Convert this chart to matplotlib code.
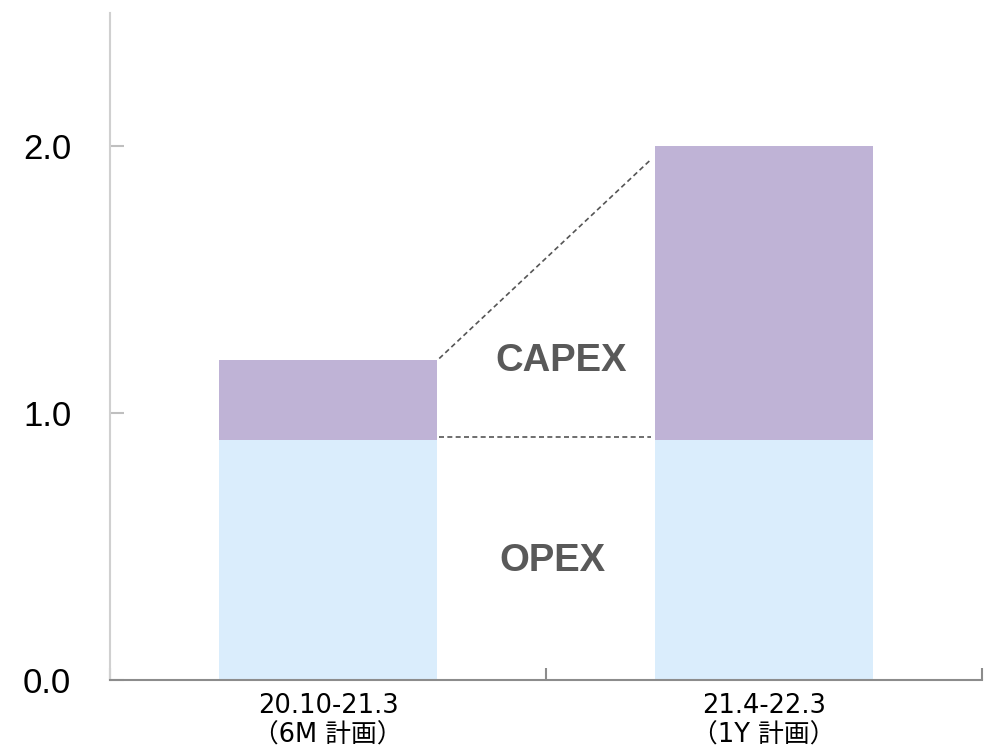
import matplotlib
matplotlib.use("Agg")
import matplotlib.pyplot as plt

categories = ["20.10-21.3\n（6M 計画）", "21.4-22.3\n（1Y 計画）"]
opex = [0.9, 0.9]
capex = [0.3, 1.1]
y_ticks = [0.0, 1.0, 2.0]
y_tick_labels = ["0.0", "1.0", "2.0"]

opex_color = "#DAEDFC"
capex_color = "#BFB3D6"
text_color = "#595959"

fig = plt.figure(figsize=(9.86, 7.5), dpi=100)
ax = fig.add_axes([0.1116, 0.0933, 0.8844, 0.8894])

x = list(range(len(categories)))
width = 0.5
ax.bar(x, opex, width=width, color=opex_color, zorder=2)
ax.bar(x, capex, bottom=opex, width=width, color=capex_color, zorder=2)

totals = [o + c for o, c in zip(opex, capex)]

# connector lines between the two stacks
ax.plot([x[0] + width / 2 + 0.005, x[1] - width / 2 - 0.01],
        [totals[0] + 0.005, totals[1] - 0.05],
        ls=(0, (3, 2)), color="#555555", lw=1.2, zorder=3)
ax.plot([x[0] + width / 2 + 0.005, x[1] - width / 2 - 0.01],
        [opex[0] + 0.01, opex[1] + 0.01],
        ls=(0, (3, 2)), color="#555555", lw=1.2, zorder=3)

ax.text(0.534, totals[0] - 0.005, "CAPEX", ha="center", va="center",
        fontsize=27.5, fontweight="bold", color=text_color,
        family="Liberation Sans")
ax.text(0.514, opex[0] / 2 - 0.005, "OPEX", ha="center", va="center",
        fontsize=27.5, fontweight="bold", color=text_color,
        family="Liberation Sans")

ax.set_xlim(-0.5, 1.5)
ax.set_ylim(0, 2.5)

ax.set_yticks(y_ticks)
ax.set_yticklabels(y_tick_labels, fontsize=25, family="Liberation Sans")
ax.tick_params(axis="y", direction="in", length=10, width=1.5,
               color="#BFBFBF", pad=28)

ax.set_xticks(x)
ax.set_xticklabels(categories, fontsize=18.5,
                   family=["DejaVu Sans", "Noto Sans CJK JP"],
                   linespacing=1.2)
ax.tick_params(axis="x", which="major", length=0, pad=9)
ax.set_xticks([-0.5, 0.5, 1.5], minor=True)
ax.tick_params(axis="x", which="minor", direction="in", length=9,
               width=1.5, color="#8C8C8C")

for side in ["top", "right"]:
    ax.spines[side].set_visible(False)
ax.spines["left"].set_color("#D0D0D0")
ax.spines["left"].set_linewidth(1.5)
ax.spines["bottom"].set_color("#8C8C8C")
ax.spines["bottom"].set_linewidth(1.5)

fig.savefig("out.png", dpi=100)
